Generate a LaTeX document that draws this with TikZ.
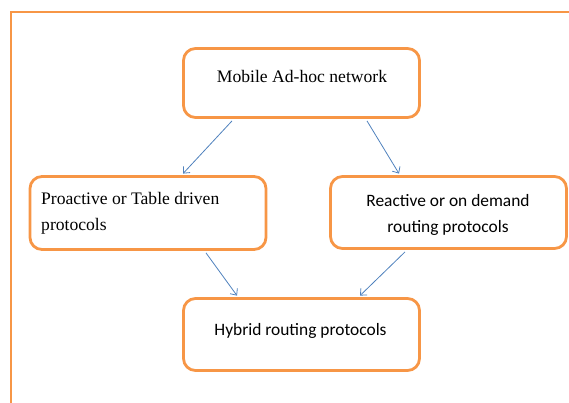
\documentclass[tikz,border=0pt]{standalone}
\usepackage{fontspec}
\newfontfamily\serifA{Liberation Serif}
\newfontfamily\sansA{Carlito}
\usetikzlibrary{arrows.meta}
\definecolor{boxorange}{RGB}{247,150,70}
\definecolor{arrowblue}{RGB}{79,129,189}
\tikzset{
  box/.style={draw=boxorange, line width=2.8pt, rounded corners=12pt, rectangle, inner sep=0pt, minimum width=236pt, minimum height=72pt},
  conn/.style={draw=arrowblue, line width=0.8pt, -{Straight Barb[length=5pt,width=9pt]}},
  sertext/.style={font=\serifA\fontsize{17.6}{21}\selectfont, inner sep=0pt, anchor=base, text=black},
  santext/.style={font=\sansA\fontsize{17.4}{21}\selectfont, inner sep=0pt, anchor=base, text=black},
}
\begin{document}
\begin{tikzpicture}[x=1pt,y=-1pt]
\useasboundingbox (0,0) rectangle (569,402);
\draw[boxorange, line width=2.5pt] (11,403) -- (11,12) -- (570,12);
\node[box, minimum height=69pt] (m) at (301.5,83) {};
\node[box, minimum height=73pt] (p) at (148,213) {};
\node[box, minimum height=72pt] (r) at (448.5,212.5) {};
\node[box, minimum height=72pt] (h) at (301.5,334.5) {};
\node[sertext] (mt) at (302,82) {Mobile Ad-hoc network};
\node[sertext, anchor=base west] (pt1) at (41,204) {Proactive or Table driven};
\node[sertext, anchor=base west] (pt2) at (41,230) {protocols};
\node[santext] (rt1) at (448,206.5) {Reactive or on demand};
\node[santext] (rt2) at (448,232.5) {routing protocols};
\node[santext] (ht) at (300.5,335) {Hybrid routing protocols};
\draw[conn] ([xshift=-69.5pt,yshift=-2pt]m.south) -- ([xshift=35pt,yshift=1.5pt]p.north);
\draw[conn] ([xshift=65.5pt,yshift=-2pt]m.south) -- ([xshift=-49.5pt,yshift=1.5pt]r.north);
\draw[conn] ([xshift=58pt,yshift=-2pt]p.south) -- ([xshift=-64.5pt,yshift=1.5pt]h.north);
\draw[conn] ([xshift=-43.5pt,yshift=-2pt]r.south) -- ([xshift=58.5pt,yshift=1.5pt]h.north);
\end{tikzpicture}
\end{document}
